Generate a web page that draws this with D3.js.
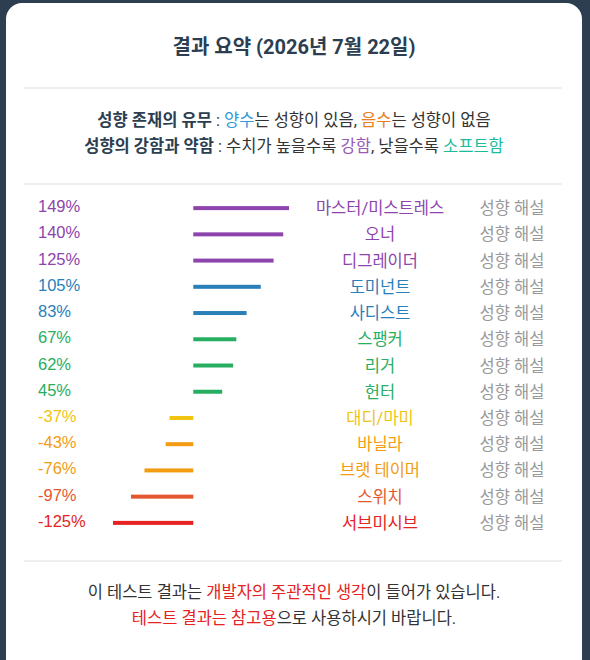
<!DOCTYPE html><html><head><meta charset="utf-8"><script src="https://cdn.jsdelivr.net/npm/d3@7"></script>
<style>body{margin:0;background:#2c3e50;}svg{display:block;}</style></head><body><svg id="c" width="590" height="660"></svg>
<script>
const categories=["마스터/미스트레스","오너","디그레이더","도미넌트","사디스트","스팽커","리거","헌터","대디/마미","바닐라","브랫 테이머","스위치","서브미시브"];
const values=[149,140,125,105,83,67,62,45,-37,-43,-76,-97,-125];
const colors=["#8e44ad","#8e44ad","#8e44ad","#2980b9","#2980b9","#27ae60","#27ae60","#27ae60","#f1c40f","#f39c12","#f39c12","#e4572e","#e62222"];
const svg=d3.select("#c");
const F="Roboto, 'Noto Sans CJK KR', sans-serif";
svg.append("rect").attr("x",6).attr("y",3).attr("width",576).attr("height",680).attr("rx",16).attr("fill","#fff");
svg.append("text").attr("x",294).attr("y",54).attr("text-anchor","middle").attr("font-family",F).attr("font-size",20).attr("font-weight","bold").attr("fill","#2c3e50").text("결과 요약 (2026년 7월 22일)");
[88,184,561].forEach(y=>svg.append("line").attr("x1",24).attr("x2",562).attr("y1",y).attr("y2",y).attr("stroke","#eee").attr("stroke-width",2));
function rich(y,parts){const t=svg.append("text").attr("x",294).attr("y",y).attr("text-anchor","middle").attr("font-family",F).attr("font-size",16.5);
parts.forEach(p=>t.append("tspan").attr("fill",p[1]||"#333").attr("font-weight",p[2]?"bold":null).text(p[0]));}
rich(126,[["성향 존재의 유무","#2c3e50",1],[" : "],["양수","#3498db"],["는 성향이 있음, "],["음수","#e67e22"],["는 성향이 없음"]]);
rich(152,[["성향의 강함과 약함","#2c3e50",1],[" : 수치가 높을수록 "],["강함","#9b59b6"],[", 낮을수록 "],["소프트함","#1abc9c"]]);
const y=d3.scaleBand().domain(categories).range([195,536]);
const x=d3.scaleLinear().domain([-125,149]).range([113,289]);
const g=svg.selectAll("g.r").data(categories).join("g").attr("transform",d=>`translate(0,${y(d)+y.bandwidth()/2})`);
g.append("rect").attr("x",(d,i)=>x(Math.min(0,values[i]))).attr("width",(d,i)=>Math.abs(x(values[i])-x(0))).attr("y",-2).attr("height",4).attr("fill",(d,i)=>colors[i]);
g.append("text").attr("x",38).attr("y",4).attr("font-family","'Liberation Sans', Arial, sans-serif").attr("font-size",16.5).attr("fill",(d,i)=>colors[i]).text((d,i)=>values[i]+"%");
g.append("text").attr("x",380).attr("y",6).attr("text-anchor","middle").attr("font-family",F).attr("font-size",16.5).attr("fill",(d,i)=>colors[i]).text(d=>d);
g.append("text").attr("x",512).attr("y",6).attr("text-anchor","middle").attr("font-family",F).attr("font-size",16.5).attr("fill","#999").text("성향 해설");
rich(598,[["이 테스트 결과는 "],["개발자의 주관적인 생각","#e62222"],["이 들어가 있습니다."]]);
rich(624,[["테스트 결과는 참고용","#e62222"],["으로 사용하시기 바랍니다."]]);
</script></body></html>
